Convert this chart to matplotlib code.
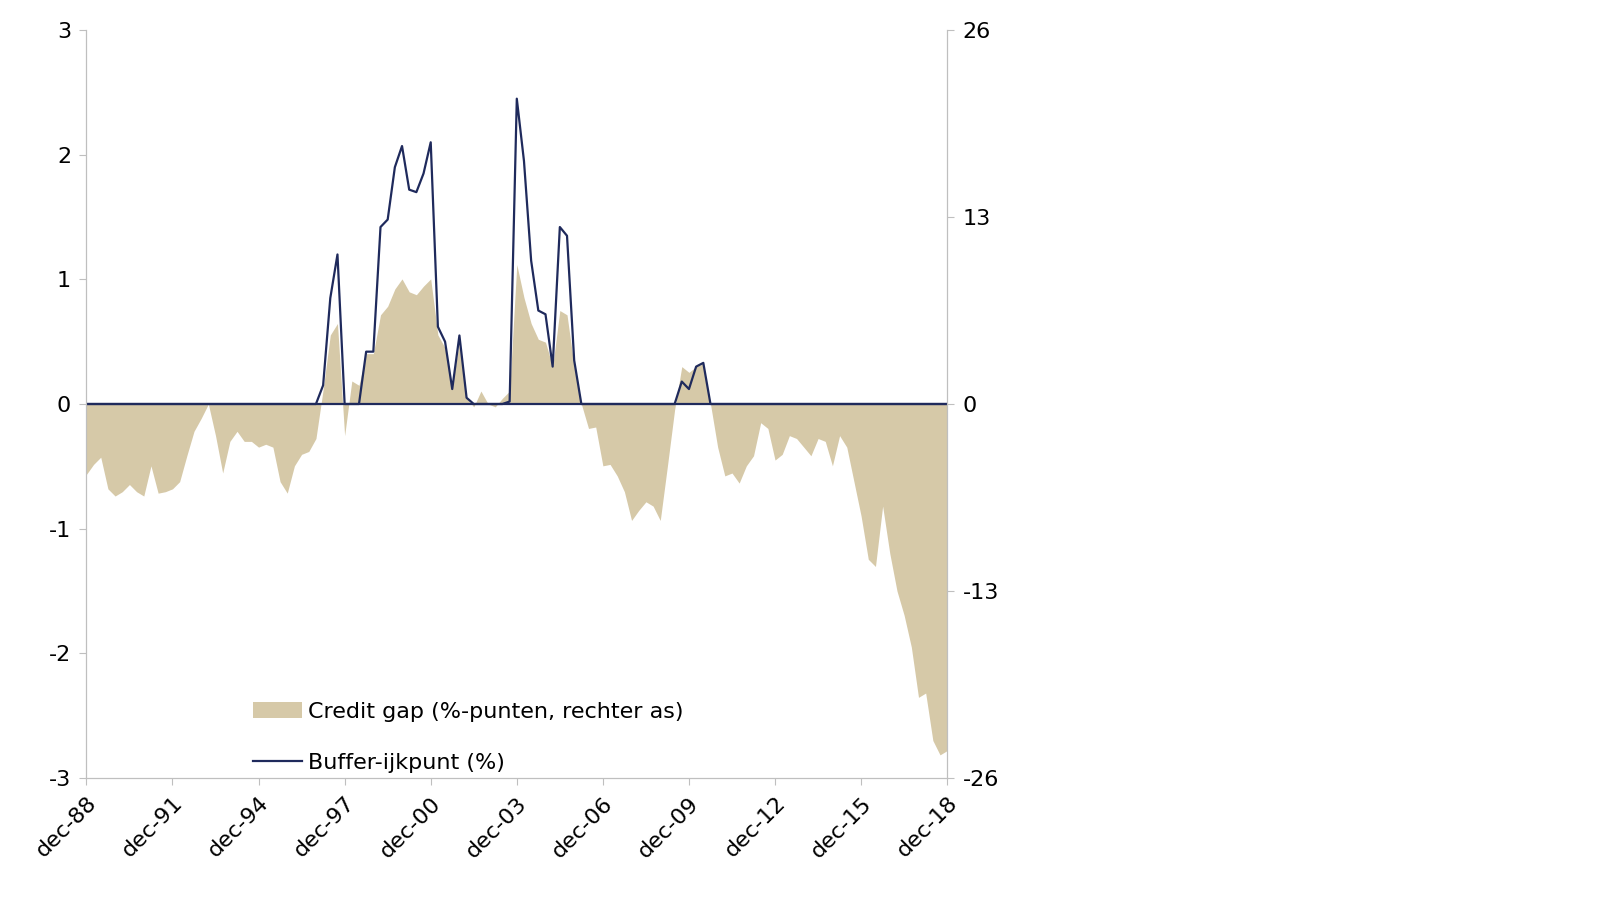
import matplotlib
matplotlib.use("Agg")
import matplotlib.pyplot as plt
import numpy as np
plt.rcParams["axes.unicode_minus"] = False

credit_gap = [-4.9,-4.2,-3.7,-5.9,-6.4,-6.1,-5.6,-6.1,-6.4,-4.3,-6.2,-6.1,-5.9,-5.4,-3.6,-1.9,-1.0,0,-2.2,-4.8,
 -2.6,-1.9,-2.6,-2.6,-3.0,-2.8,-3.0,-5.4,-6.2,-4.3,-3.5,-3.3,-2.4,1.0,4.8,5.6,-2.2,1.6,1.3,3.5,
 3.5,6.2,6.8,8.0,8.7,7.8,7.6,8.2,8.7,4.8,3.9,1.3,4.3,0.4,-0.2,0.9,0,-0.2,0.4,0.9,
 9.7,7.4,5.6,4.5,4.3,2.6,6.5,6.2,2.6,0,-1.7,-1.6,-4.3,-4.2,-5.0,-6.1,-8.1,-7.4,-6.8,-7.1,
 -8.1,-4.3,-0.4,2.6,2.2,2.6,2.8,0,-3.0,-5.0,-4.8,-5.5,-4.3,-3.6,-1.3,-1.7,-3.9,-3.5,-2.2,-2.4,
 -3.0,-3.6,-2.4,-2.6,-4.3,-2.2,-3.0,-5.4,-7.8,-10.8,-11.3,-7.1,-10.4,-13.0,-14.7,-16.9,-20.4,-20.1,-23.4,-24.4,-24.1]
buffer = [0]*33 + [0.15,0.85,1.2,0,0,0,0.42,0.42,1.42,1.48,1.9,2.07,1.72,1.7,1.85,2.1,0.62,0.5,0.12,0.55,0.05,
 0,0,0,0,0,0.02,2.45,1.95,1.15,0.75,0.72,0.3,1.42,1.35,0.35] + [0]*14 + [0.18,0.12,0.3,0.33]
buffer = buffer + [0]*(len(credit_gap)-len(buffer))
tick_labels = ["dec-88","dec-91","dec-94","dec-97","dec-00","dec-03","dec-06","dec-09","dec-12","dec-15","dec-18"]

n = len(credit_gap)
x = np.arange(n)
fig = plt.figure(figsize=(16, 9.13), dpi=100)
ax = fig.add_axes([0.054, 0.148, 0.538, 0.819])
ax2 = ax.twinx()
ax2.fill_between(x, credit_gap, 0, color="#d6c9a8", lw=0, label="Credit gap (%-punten, rechter as)")
ax.plot(x, buffer[:n], color="#1f2a5c", lw=1.6, label="Buffer-ijkpunt (%)")
ax.set_zorder(ax2.get_zorder()+1); ax.patch.set_visible(False)
ax.set_ylim(-3, 3); ax2.set_ylim(-26, 26)
ax.set_yticks([-3,-2,-1,0,1,2,3]); ax2.set_yticks([-26,-13,0,13,26])
ax.set_xlim(0, n-1)
ax.set_xticks(np.arange(0, n, 12)); ax.set_xticklabels(tick_labels[:len(range(0,n,12))], rotation=45, ha="right", rotation_mode="anchor")
for a in (ax, ax2):
    a.spines["top"].set_visible(False)
    for s in ("left","right","bottom"):
        a.spines[s].set_color("#bfbfbf")
    a.tick_params(labelsize=16, color="#bfbfbf", length=5, pad=6)
ax.axhline(0, color="#1f2a5c", lw=1.6)
h1, l1 = ax2.get_legend_handles_labels(); h2, l2 = ax.get_legend_handles_labels()
ax.legend(h1+h2, l1+l2, loc="lower left", bbox_to_anchor=(0.17, -0.02), frameon=False, fontsize=16, labelspacing=1.4, handlelength=2.2, handletextpad=0.3)
fig.savefig("out.png")
